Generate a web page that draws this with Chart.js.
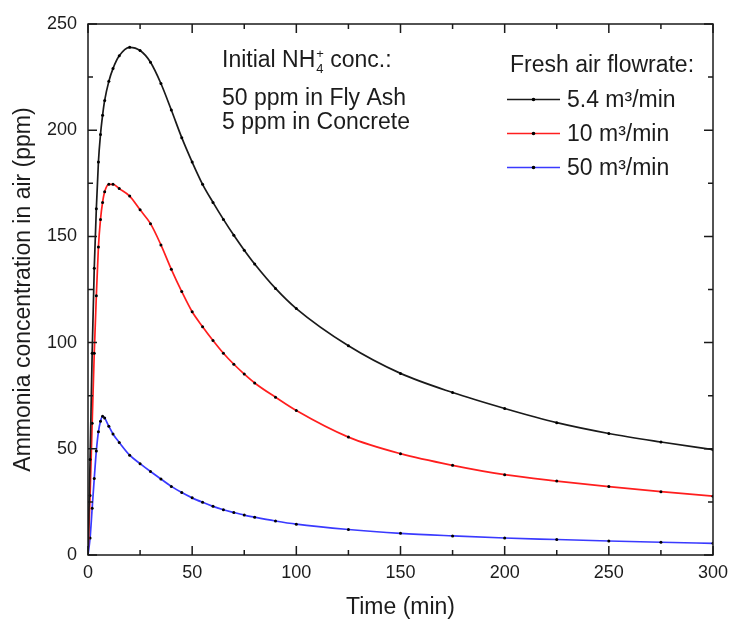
<!DOCTYPE html>
<html><head><meta charset="utf-8">
<script src="https://cdn.jsdelivr.net/npm/chart.js@4/dist/chart.umd.min.js"></script>
<style>html,body{margin:0;padding:0;background:#fff}#wrap{width:732px;height:622px}</style>
</head><body><div id="wrap"><canvas id="c" width="732" height="622"></canvas></div>
<script>
// ---- data ----
const times  = [0, 1, 2, 3, 4, 5, 6, 7, 8, 10, 12, 15, 20, 25, 30, 35, 40, 45, 50, 55, 60, 65, 70, 75, 80, 90, 100, 125, 150, 175, 200, 225, 250, 275, 300];
const flow54 = [0, 45, 95, 135, 163, 185, 198, 207, 214, 223, 229, 235, 239, 237.5, 232, 222, 209.5, 196.5, 185, 174.5, 166, 158, 150.5, 143.5, 137, 125.5, 116, 98.5, 85.5, 76.5, 69, 62.3, 57.2, 53.2, 49.6];
const flow10 = [0, 28, 62, 95, 122, 145, 158, 166, 171, 174.5, 174.5, 172.5, 169, 162.5, 156, 146, 134.5, 124, 114.5, 107.5, 101, 95, 89.8, 85.2, 81, 74.3, 68, 55.5, 47.7, 42.2, 37.8, 34.8, 32.2, 29.8, 27.7];
const flow50 = [0, 8, 22, 36, 49, 58, 63, 65.3, 64.5, 60.6, 57, 53, 47, 43, 39.3, 35.8, 32.3, 29.4, 26.9, 24.8, 22.9, 21.3, 20, 18.8, 17.8, 16, 14.5, 12, 10.2, 9, 8, 7.3, 6.6, 6, 5.5];
const seriesLabels = ['5.4 m\u00B3/min', '10 m\u00B3/min', '50 m\u00B3/min'];
const seriesColors = ['#1a1a1a', '#ff1e1e', '#3a3aff'];
const legendTitle = 'Fresh air flowrate:';
const noteLine1 = ['Initial NH', '4', '+', ' conc.:'];
const noteLine2 = '50 ppm in Fly Ash';
const noteLine3 = '5 ppm in Concrete';
const xTitle = 'Time (min)';
const yTitle = 'Ammonia concentration in air (ppm)';
const xMin = 0, xMax = 300, xStep = 50;
const yMin = 0, yMax = 250, yStep = 50;

const FONT = '"Liberation Sans", Arial, sans-serif';
const TXT = '#1c1c1c';

const seriesValues = [flow54, flow10, flow50];
const datasets = seriesValues.map((vals, i) => ({
  label: seriesLabels[i],
  data: times.map((t, k) => ({x: t, y: vals[k]})),
  borderColor: seriesColors[i],
  borderWidth: 1.7,
  pointRadius: 1.5,
  pointBackgroundColor: '#000',
  pointBorderWidth: 0,
  cubicInterpolationMode: 'monotone',
  tension: 0.4,
  fill: false
}));

const decor = {
  id: 'decor',
  afterDraw(chart) {
    const {ctx, chartArea: a, scales: {x, y}} = chart;
    ctx.save();
    ctx.strokeStyle = '#1a1a1a';
    ctx.lineWidth = 1.5;
    const majL = 9, minL = 5;
    const xt = x.ticks.map(t => t.value);
    ctx.beginPath();
    xt.forEach((v, i) => {
      const p = x.getPixelForValue(v);
      ctx.moveTo(p, a.bottom); ctx.lineTo(p, a.bottom - majL);
      ctx.moveTo(p, a.top); ctx.lineTo(p, a.top + majL);
      if (i < xt.length - 1) {
        const m = x.getPixelForValue((v + xt[i + 1]) / 2);
        ctx.moveTo(m, a.bottom); ctx.lineTo(m, a.bottom - minL);
        ctx.moveTo(m, a.top); ctx.lineTo(m, a.top + minL);
      }
    });
    const yt = y.ticks.map(t => t.value);
    yt.forEach((v, i) => {
      const p = y.getPixelForValue(v);
      ctx.moveTo(a.left, p); ctx.lineTo(a.left + majL, p);
      ctx.moveTo(a.right, p); ctx.lineTo(a.right - majL, p);
      if (i < yt.length - 1) {
        const m = y.getPixelForValue((v + yt[i + 1]) / 2);
        ctx.moveTo(a.left, m); ctx.lineTo(a.left + minL, m);
        ctx.moveTo(a.right, m); ctx.lineTo(a.right - minL, m);
      }
    });
    ctx.stroke();
    ctx.strokeRect(a.left, a.top, a.right - a.left, a.bottom - a.top);

    ctx.fillStyle = TXT;
    ctx.textBaseline = 'alphabetic';
    ctx.textAlign = 'left';
    const big = '23px ' + FONT, small = '13px ' + FONT;
    let tx = 222, by = 67;
    ctx.font = big; ctx.fillText(noteLine1[0], tx, by);
    tx += ctx.measureText(noteLine1[0]).width + 1;
    ctx.font = small;
    ctx.fillText(noteLine1[1], tx, by + 6);
    ctx.fillText(noteLine1[2], tx, by - 9);
    tx += Math.max(ctx.measureText(noteLine1[1]).width, ctx.measureText(noteLine1[2]).width);
    ctx.font = big; ctx.fillText(noteLine1[3], tx, by);
    ctx.fillText(noteLine2, 222, 105);
    ctx.fillText(noteLine3, 222, 129);

    ctx.fillText(legendTitle, 510, 72);
    const rows = [107, 141, 175];
    chart.data.datasets.forEach((ds, i) => {
      const ly = rows[i] - 7.5;
      ctx.strokeStyle = ds.borderColor; ctx.lineWidth = 1.7;
      ctx.beginPath(); ctx.moveTo(507, ly); ctx.lineTo(560, ly); ctx.stroke();
      ctx.fillStyle = '#000';
      ctx.beginPath(); ctx.arc(533.5, ly, 1.8, 0, Math.PI * 2); ctx.fill();
      ctx.fillStyle = TXT;
      ctx.font = big;
      ctx.fillText(ds.label, 567, rows[i]);
    });
    ctx.restore();
  }
};

new Chart(document.getElementById('c'), {
  type: 'line',
  data: {datasets},
  plugins: [decor],
  options: {
    responsive: false,
    animation: false,
    devicePixelRatio: 1,
    layout: {padding: {top: 24, right: 19, left: 0, bottom: 0}},
    plugins: {legend: {display: false}, tooltip: {enabled: false}},
    scales: {
      x: {
        type: 'linear', min: xMin, max: xMax,
        ticks: {stepSize: xStep, padding: 7, color: TXT, font: {family: FONT, size: 18}},
        grid: {display: false, drawTicks: false},
        border: {display: false},
        title: {display: true, text: xTitle, color: TXT, font: {family: FONT, size: 23}, padding: {top: 0, bottom: 1}},
        afterFit(s) { s.height = 67; s.paddingRight = 0; s.paddingLeft = 0; }
      },
      y: {
        type: 'linear', min: yMin, max: yMax,
        ticks: {stepSize: yStep, padding: 11, color: TXT, font: {family: FONT, size: 18}},
        grid: {display: false, drawTicks: false},
        border: {display: false},
        title: {display: true, text: yTitle, color: TXT, font: {family: FONT, size: 23}, padding: {top: 10, bottom: 0}},
        afterFit(s) { s.width = 88; s.paddingTop = 0; s.paddingBottom = 0; }
      }
    }
  }
});
</script>
</body></html>
